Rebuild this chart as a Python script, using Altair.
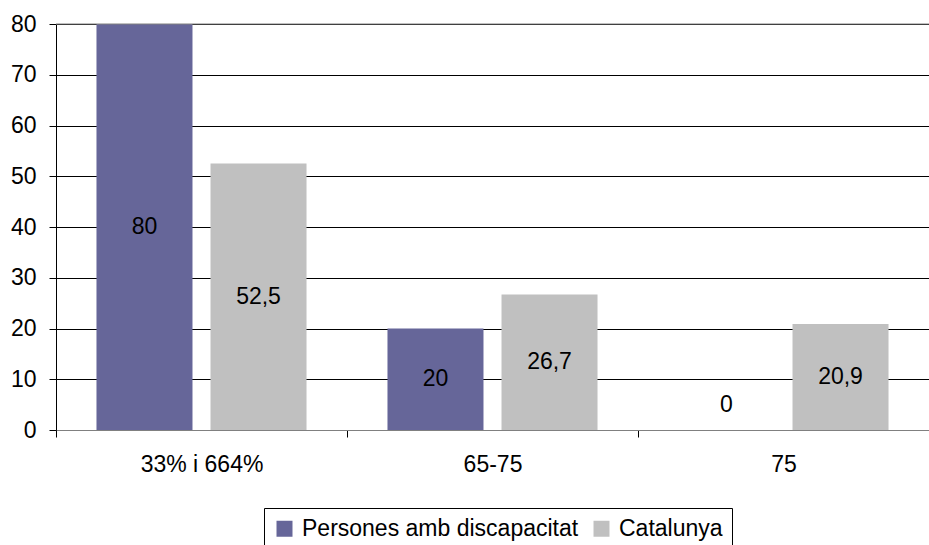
import altair as alt
import pandas as pd

categories = ["33% i 664%", "65-75", "75"]
series = ["Persones amb discapacitat", "Catalunya"]
persones = [80, 20, 0]
catalunya = [52.5, 26.7, 20.9]

rows = []
for i, c in enumerate(categories):
    for s, vals in zip(series, [persones, catalunya]):
        v = vals[i]
        rows.append({
            "cat": c,
            "series": s,
            "value": v,
            "label": f"{v:g}".replace(".", ","),
            "mid": v / 2 if v > 0 else 5,
        })
df = pd.DataFrame(rows)

FONT = "Liberation Sans"
FS = 23

x = alt.X(
    "cat:N",
    sort=categories,
    scale=alt.Scale(paddingInner=0, paddingOuter=0),
    axis=alt.Axis(
        title=None, tickBand="extent", labelAngle=0, labelFont=FONT,
        labelFontSize=FS, labelColor="black", labelPadding=16,
        domainColor="#808080", tickColor="black", tickSize=7, grid=False,
    ),
)
xoff = alt.XOffset(
    "series:N", sort=series,
    scale=alt.Scale(paddingInner=0.158, paddingOuter=0.355),
)
color = alt.Color(
    "series:N", sort=series,
    scale=alt.Scale(domain=series, range=["#666699", "#C0C0C0"]),
    legend=alt.Legend(
        title=None, orient="none", legendX=208, legendY=484,
        direction="horizontal", strokeColor="#000000", padding=9,
        symbolType="square", symbolSize=256, symbolStrokeWidth=0,
        labelFont=FONT, labelFontSize=FS, labelColor="black", labelLimit=0,
        columnPadding=11, labelOffset=6, fillColor="white",
    ),
)
yscale = alt.Scale(domain=[0, 80], nice=False)
yaxis = alt.Axis(
    title=None, values=list(range(0, 81, 10)), labelFont=FONT,
    labelFontSize=FS, labelColor="black", labelPadding=13,
    domainColor="black", tickColor="black", tickSize=7,
    gridColor="black", gridWidth=1,
)

bars = alt.Chart(df).mark_bar().encode(
    x=x, xOffset=xoff,
    y=alt.Y("value:Q", scale=yscale, axis=yaxis),
    color=color,
)
text = alt.Chart(df).mark_text(
    fontSize=FS, font=FONT, color="black", baseline="middle"
).encode(
    x=x, xOffset=xoff,
    y=alt.Y("mid:Q", scale=yscale, axis=yaxis),
    text="label:N",
)
top = alt.Chart(pd.DataFrame({"y": [80]})).mark_rule(color="#808080").encode(
    y=alt.Y("y:Q", scale=yscale, axis=yaxis)
)

chart = alt.layer(bars, top, text).properties(
    width=873, height=406,
    padding={"left": 56, "top": 24, "right": 0, "bottom": 115},
    autosize=alt.AutoSizeParams(type="none"),
    background="white",
).configure_view(stroke=None)

chart.save("out.html", embed_options={"renderer": "svg", "actions": False})
